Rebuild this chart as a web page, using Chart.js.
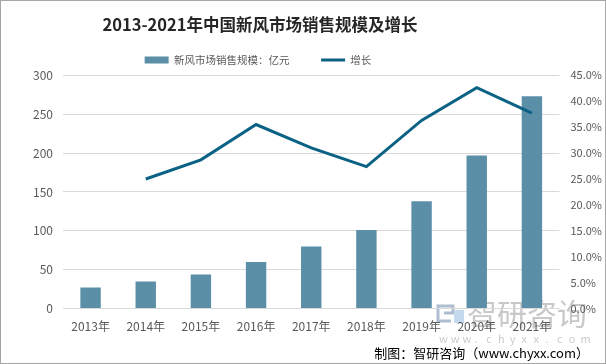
<!DOCTYPE html>
<html>
<head>
<meta charset="utf-8">
<script src="https://cdn.jsdelivr.net/npm/chart.js@4/dist/chart.umd.min.js"></script>
<style>
  html, body { margin: 0; padding: 0; background: #fff; }
  #wrap { position: relative; width: 604px; height: 362px; border: 1px solid #a6a6a6; }
</style>
</head>
<body>
<div id="wrap"><canvas id="chart" width="604" height="362"></canvas></div>
<script>
// datos
var years = ['2013年', '2014年', '2015年', '2016年', '2017年', '2018年', '2019年', '2020年', '2021年'];
var salesScale = [27, 35, 44, 60, 80, 101, 138, 197, 273];
var growthRate = [null, 25.0, 28.7, 35.5, 31.0, 27.4, 36.3, 42.6, 37.7];

var FONT = '"Noto Sans CJK SC", "Noto Sans", sans-serif';

// marca de agua (detrás) y pie de página
var decorPlugin = {
    id: 'decor',
    afterLayout: function(chart) {
        // título y leyenda del original están centrados más a la izquierda
        chart.legend.left -= 60;
        chart.legend.right -= 60;
        chart.titleBlock.left -= 58;
        chart.titleBlock.right -= 58;
    },
    beforeDraw: function(chart) {
        var ctx = chart.ctx;
        ctx.save();
        ctx.strokeStyle = '#aebdd0';
        ctx.lineWidth = 3;
        ctx.beginPath();
        ctx.moveTo(437, 322);
        ctx.lineTo(437, 305);
        ctx.lineTo(452, 305);
        ctx.lineTo(452, 312);
        ctx.lineTo(443, 312);
        ctx.moveTo(437, 320);
        ctx.lineTo(450, 320);
        ctx.stroke();
        ctx.fillStyle = '#c5daee';
        ctx.fillRect(453, 309, 10, 13);
        ctx.fillStyle = '#c8c8c8';
        ctx.font = '30px ' + FONT;
        ctx.textBaseline = 'middle';
        ctx.fillText('智研咨询', 466, 313);
        ctx.font = '11px ' + FONT;
        ctx.fillStyle = '#cccccc';
        var s = 'www.chyxx.com';
        for (var i = 0; i < s.length; i++) {
            ctx.fillText(s[i], 438 + i * 11.8, 338);
        }
        ctx.restore();
    },
    afterDraw: function(chart) {
        var ctx = chart.ctx;
        ctx.save();
        ctx.fillStyle = '#000';
        ctx.font = '13px ' + FONT;
        ctx.textAlign = 'right';
        ctx.textBaseline = 'middle';
        ctx.fillText('制图：智研咨询（www.chyxx.com）', 588, 352);
        ctx.restore();
    }
};

var ctx = document.getElementById('chart');
new Chart(ctx, {
    data: {
        labels: years,
        datasets: [
            {
                type: 'line',
                label: '增长',
                data: growthRate,
                yAxisID: 'y1',
                borderColor: '#0b6285',
                backgroundColor: '#0b6285',
                borderWidth: 3,
                pointRadius: 0,
                pointStyle: 'line',
                tension: 0,
                order: 0
            },
            {
                type: 'bar',
                label: '新风市场销售规模：亿元',
                data: salesScale,
                yAxisID: 'y',
                backgroundColor: '#5b8fa8',
                pointStyle: 'rect',
                barPercentage: 0.37,
                categoryPercentage: 1,
                order: 1
            }
        ]
    },
    options: {
        responsive: false,
        animation: false,
        layout: { padding: { left: 22, right: -8, top: 4, bottom: 26 } },
        plugins: {
            title: {
                display: true,
                text: '2013-2021年中国新风市场销售规模及增长',
                color: '#262626',
                font: { family: FONT, size: 16.5, weight: 'bold' },
                padding: { top: 10, bottom: 14 }
            },
            legend: {
                position: 'top',
                reverse: true,
                labels: {
                    usePointStyle: true,
                    pointStyleWidth: 24,
                    boxHeight: 7,
                    color: '#595959',
                    font: { family: FONT, size: 10.5 },
                    padding: 6,
                    generateLabels: function(chart) {
                        var items = Chart.defaults.plugins.legend.labels.generateLabels(chart);
                        items.forEach(function(it) {
                            if (it.datasetIndex === 1) it.text = it.text + '\u3000\u3000  ';
                        });
                        return items;
                    }
                }
            },
            tooltip: { enabled: false }
        },
        scales: {
            x: {
                grid: { display: false },
                border: { display: false },
                ticks: { color: '#595959', font: { family: FONT, size: 12 }, padding: 3 }
            },
            y: {
                position: 'left',
                min: 0,
                max: 300,
                ticks: { stepSize: 50, color: '#595959', font: { family: FONT, size: 12 }, padding: 10 },
                grid: { color: '#d9d9d9', drawTicks: false },
                border: { display: false }
            },
            y1: {
                position: 'right',
                min: 0,
                max: 45,
                ticks: {
                    stepSize: 5,
                    color: '#595959',
                    font: { family: FONT, size: 11 },
                    padding: 11,
                    callback: function(v) { return v.toFixed(1) + '%'; }
                },
                grid: { display: false, drawTicks: false },
                border: { display: false }
            }
        }
    },
    plugins: [decorPlugin]
});
</script>
</body>
</html>
